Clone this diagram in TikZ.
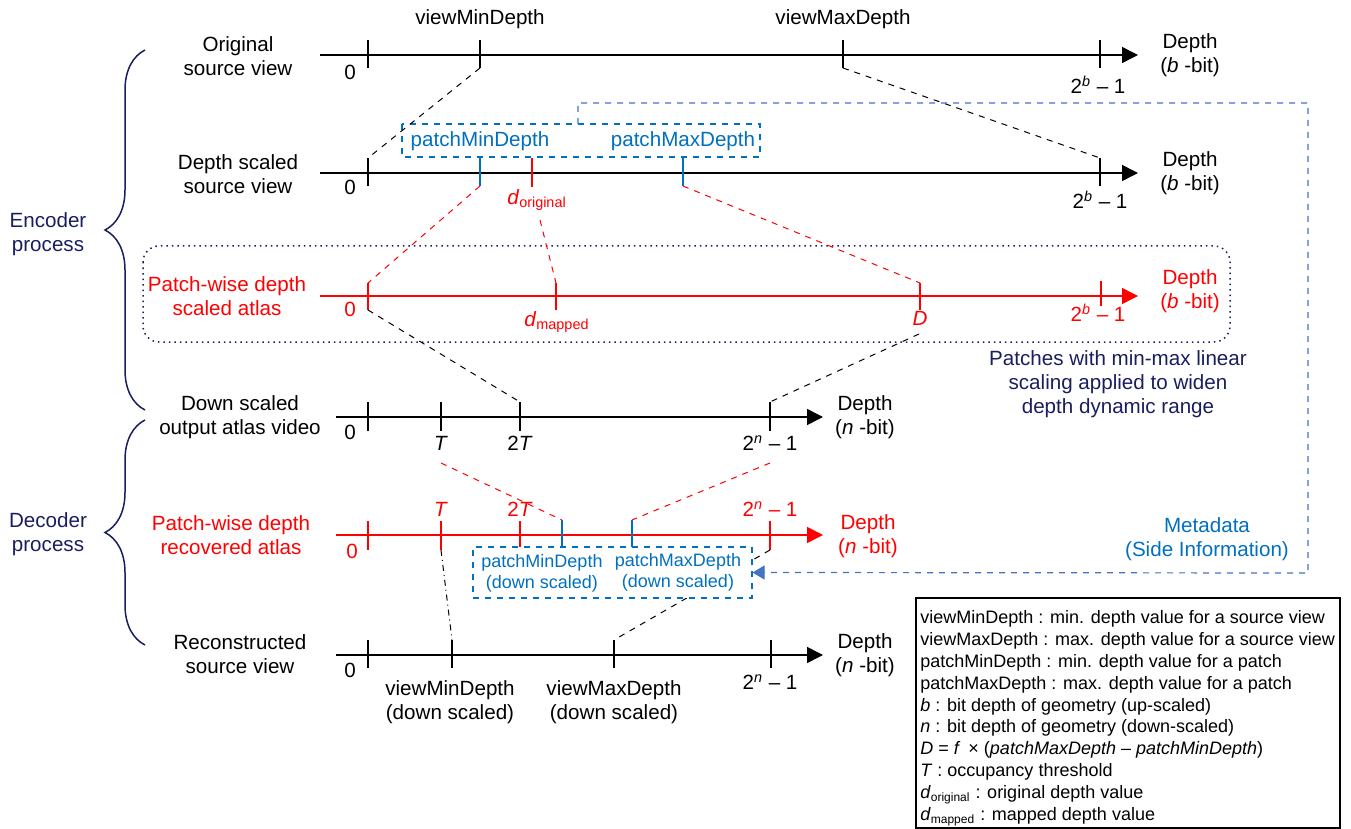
\documentclass[tikz,border=0pt]{standalone}
\usepackage{fontspec}
\setmainfont{Liberation Sans}
\usetikzlibrary{positioning, arrows.meta, decorations.pathreplacing}
\definecolor{navy}{RGB}{25,30,95}
\definecolor{patchblue}{RGB}{0,112,192}
\definecolor{metablue}{RGB}{68,114,196}

\begin{document}
\begin{tikzpicture}[x=0.5pt, y=-0.5pt,
    font=\fontsize{10.3}{12}\selectfont,
    axis/.style={line width=0.75pt, -{Triangle[length=8pt, width=8pt]}},
    tk/.style={line width=0.75pt},
    mapline/.style={dashed, line width=0.5pt},
    lbl/.style={align=center, inner sep=0pt},
    pbox/.style={draw=patchblue, dashed, line width=0.6pt, fill=white},
    procbrace/.style={decorate, decoration={brace, amplitude=20pt}, draw=navy, line width=0.75pt}]

  \useasboundingbox (0,0) rectangle (1351,829);

  % encoder / decoder braces
  \draw[procbrace] (145,410) -- (145,50);
  \draw[procbrace] (145,645) -- (145,420);
  \node[lbl, navy] (enc) at (48,234) {Encoder\\process};
  \node[lbl, navy] (dec) at (48,534) {Decoder\\process};

  % row 1: original source view
  \node[lbl] (orig) at (238,56) {Original\\source view};
  \draw[axis] (320,55) -- (1138,55);
  \foreach \x/\n in {368/z, 480/vmin, 843/vmax, 1100/top}
    \draw[tk] (\x,40) coordinate (r1\n t) -- (\x,68) coordinate (r1\n b);
  \node[lbl] (r1zl) at (350,72) {0};
  \node[lbl] (r1vminl) at (480,19) {viewMinDepth};
  \node[lbl] (r1vmaxl) at (843,19) {viewMaxDepth};
  \node[lbl] (r1topl) at (1098,85) {2\textsuperscript{\textit{b}} – 1};
  \node[lbl] (r1dep) at (1190,55) {Depth\\(\textit{b} -bit)};

  % row 2: depth scaled source view
  \node[lbl] (scaled) at (238,174) {Depth scaled\\source view};
  \draw[axis] (320,173) -- (1138,173);
  \foreach \x/\n in {368/z, 1100/top}
    \draw[tk] (\x,158) coordinate (r2\n t) -- (\x,186) coordinate (r2\n b);
  \foreach \x/\n in {480/pmin, 683/pmax}
    \draw[tk, patchblue] (\x,157) coordinate (r2\n t) -- (\x,186) coordinate (r2\n b);
  \draw[tk, red] (532,158) -- (532,187);
  \node[lbl] (r2zl) at (350,187) {0};
  \node[lbl] (r2topl) at (1100,200) {2\textsuperscript{\textit{b}} – 1};
  \node[lbl, red] (dorig) at (537,200) {\textit{d}\textsubscript{original}};
  \coordinate (dorigb) at (540,220);
  \node[lbl] (r2dep) at (1190,173) {Depth\\(\textit{b} -bit)};
  \draw[pbox] (402,124) rectangle (760,157);
  \node[lbl, patchblue] (pmin) at (480,141) {patchMinDepth};
  \node[lbl, patchblue] (pmax) at (683,141) {patchMaxDepth};

  % row 3: patch-wise depth scaled atlas
  \draw[navy, dotted, line width=0.75pt, rounded corners=8pt] (143,246) rectangle (1230,342);
  \node[lbl, red] (atlas) at (227,296) {Patch-wise depth\\scaled atlas};
  \draw[axis, red] (320,296) -- (1138,296);
  \foreach \x/\n in {368/z, 556/dm, 920/D}
    \draw[tk, red] (\x,283) coordinate (r3\n t) -- (\x,310) coordinate (r3\n b);
  \draw[tk, red] (1101,281) -- (1101,306);
  \node[lbl, red] (r3zl) at (350,309) {0};
  \node[lbl, red] (dmap) at (557,322) {\textit{d}\textsubscript{mapped}};
  \node[lbl, red] (Dl) at (920,318) {\textit{D}};
  \coordinate (Dlb) at (919,334);
  \node[lbl, red] (r3topl) at (1098,313) {2\textsuperscript{\textit{b}} – 1};
  \node[lbl, red] (r3dep) at (1190,291) {Depth\\(\textit{b} -bit)};
  \node[lbl, navy] (note) at (1118,384) {Patches with min-max linear\\scaling applied to widen\\depth dynamic range};

  % row 4: down scaled output atlas video
  \node[lbl] (down) at (240,417) {Down scaled\\output atlas video};
  \draw[axis] (336,417) -- (823,417);
  \foreach \x/\n in {368/z, 441/T, 520/TT, 770/top}
    \draw[tk] (\x,402) coordinate (r4\n t) -- (\x,431) coordinate (r4\n b);
  \node[lbl] (r4zl) at (350,432) {0};
  \node[lbl] (r4Tl) at (441,443) {\textit{T}};
  \node[lbl] (r4TTl) at (520,443) {2\textit{T}};
  \node[lbl] (r4topl) at (770,443) {2\textsuperscript{\textit{n}} – 1};
  \coordinate (r4Tlb) at (441,463);
  \coordinate (r4toplb) at (770,463);
  \node[lbl] (r4dep) at (865,417) {Depth\\(\textit{n} -bit)};

  % row 5: patch-wise depth recovered atlas
  \node[lbl, red] (recov) at (231,535) {Patch-wise depth\\recovered atlas};
  \draw[axis, red] (336,535) -- (823,535);
  \foreach \x/\n in {368/z, 441/T, 520/TT, 770/top}
    \draw[tk, red] (\x,521) coordinate (r5\n t) -- (\x,550) coordinate (r5\n b);
  \foreach \x/\n in {562/pmin, 632/pmax}
    \draw[tk, patchblue] (\x,520) coordinate (r5\n t) -- (\x,548) coordinate (r5\n b);
  \node[lbl, red] (r5zl) at (352,551) {0};
  \node[lbl, red] (r5Tl) at (441,509) {\textit{T}};
  \node[lbl, red] (r5TTl) at (520,509) {2\textit{T}};
  \node[lbl, red] (r5topl) at (770,509) {2\textsuperscript{\textit{n}} – 1};
  \node[lbl, red] (r5dep) at (868,536) {Depth\\(\textit{n} -bit)};

  % row 6: reconstructed source view
  \node[lbl] (recon) at (240,654) {Reconstructed\\source view};
  \draw[axis] (336,655) -- (823,655);
  \foreach \x/\n in {368/z, 452/vmin, 614/vmax, 771/top}
    \draw[tk] (\x,640) coordinate (r6\n t) -- (\x,668) coordinate (r6\n b);
  \node[lbl] (r6zl) at (350,670) {0};
  \node[lbl] (r6vminl) at (450,702) {viewMinDepth\\(down scaled)};
  \node[lbl] (r6vmaxl) at (614,702) {viewMaxDepth\\(down scaled)};
  \node[lbl] (r6topl) at (770,682) {2\textsuperscript{\textit{n}} – 1};
  \node[lbl] (r6dep) at (865,655) {Depth\\(\textit{n} -bit)};

  % mapping lines
  \draw[mapline] (r1vminb) -- (r2zt);
  \draw[mapline] (r1vmaxb) -- (r2topt);
  \draw[mapline, red] (r2pminb) -- (r3zt);
  \draw[mapline, red] (dorigb) -- (r3dmt);
  \draw[mapline, red] (r2pmaxb) -- (r3Dt);
  \draw[mapline] (r3zb) -- (r4TTt);
  \draw[mapline] (Dlb) -- (r4topt);
  \draw[mapline, red] (r4Tlb) -- (r5pmint);
  \draw[mapline, red] (r4toplb) -- (r5pmaxt);
  \draw[mapline, dash dot] (r5Tb) -- (r6vmint);
  \draw[mapline] (r5topb) -- (r6vmaxt);

  % down scaled patch box
  \node[pbox, minimum width=139.5pt, minimum height=25.5pt, inner sep=0pt] (pbox2) at (612.5,572.5) {};
  \node[lbl, patchblue, font=\fontsize{9}{10.5}\selectfont] (pmin2) at (542,573) {patchMinDepth\\(down scaled)};
  \node[lbl, patchblue, font=\fontsize{9}{10.5}\selectfont] (pmax2) at (678,572) {patchMaxDepth\\(down scaled)};

  % metadata path
  \coordinate (meta0) at (578,124);
  \draw[metablue, dashed, line width=0.6pt, -{Triangle[length=6pt, width=7pt]}]
    (meta0) -- (578,103) -- (1308,103) -- (1308,573) -- (pbox2.east);
  \node[lbl, patchblue] (meta) at (1207,539) {Metadata\\(Side Information)};

  % legend
  \draw[line width=0.6pt] (916,598) rectangle (1340,828);
  \node[anchor=north west, align=left, inner sep=0pt, font=\fontsize{9}{10.95}\selectfont] (legend) at (920,610) {%
    viewMinDepth : min. depth value for a source view\\
    viewMaxDepth : max. depth value for a source view\\
    patchMinDepth : min. depth value for a patch\\
    patchMaxDepth : max. depth value for a patch\\
    \textit{b} : bit depth of geometry (up-scaled)\\
    \textit{n} : bit depth of geometry (down-scaled)\\
    \textit{D} = \textit{f}\, × (\textit{patchMaxDepth} – \textit{patchMinDepth})\\
    \textit{T} : occupancy threshold\\
    \textit{d}\textsubscript{original} : original depth value\\
    \textit{d}\textsubscript{mapped} : mapped depth value};
\end{tikzpicture}
\end{document}
